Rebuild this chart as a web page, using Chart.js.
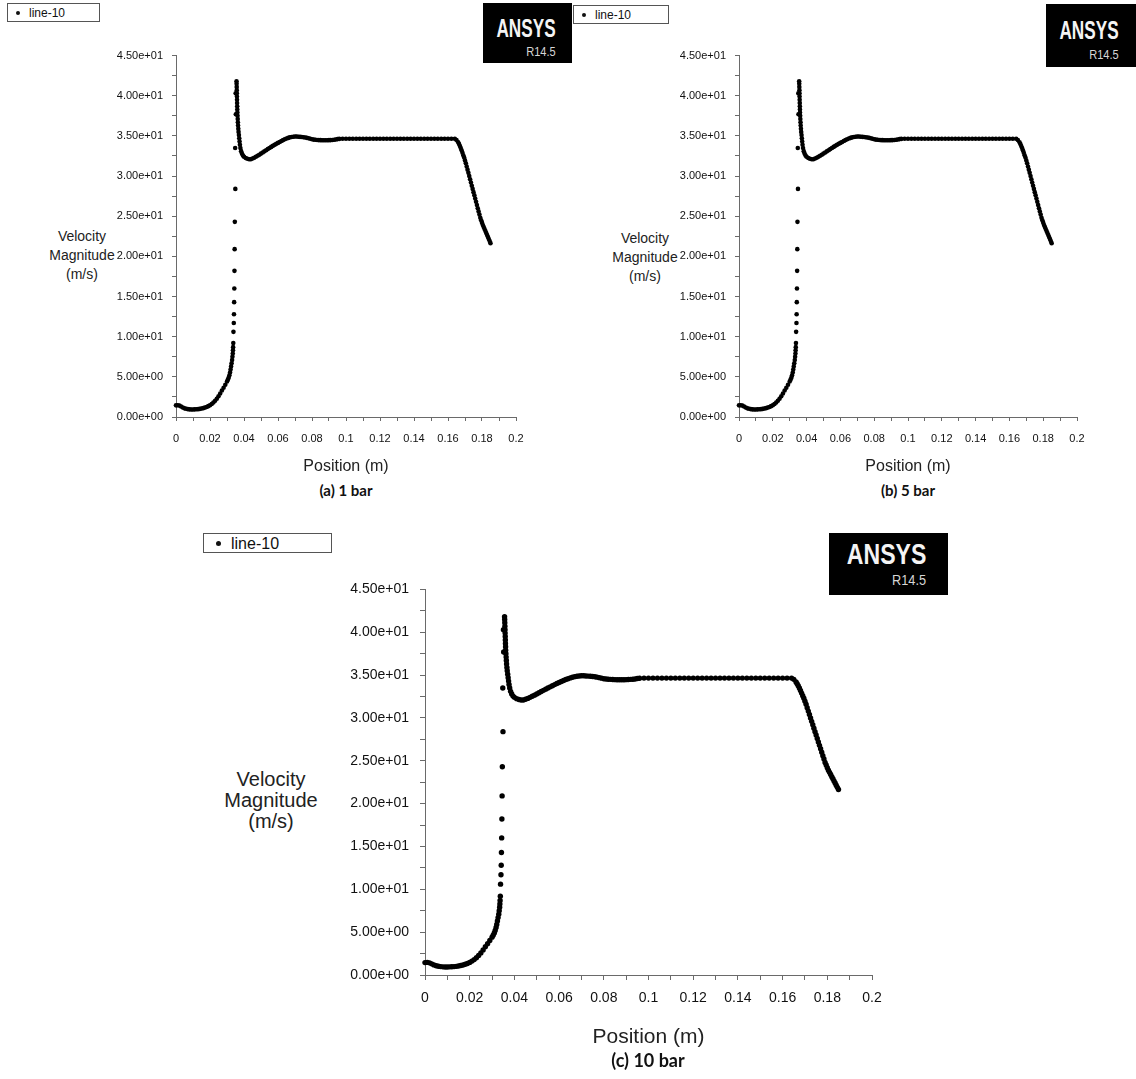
<!DOCTYPE html>
<html>
<head>
<meta charset="utf-8">
<title>Velocity magnitude along line-10</title>
<script src="https://cdn.jsdelivr.net/npm/chart.js@4.4.1/dist/chart.umd.min.js"></script>
<style>
  html, body { margin: 0; padding: 0; background: #fff; }
  #page { position: relative; width: 1136px; height: 1079px; overflow: hidden; background: #fff; }
  canvas { position: absolute; }
  .legend { position: absolute; box-sizing: border-box; border: 1px solid #555; background: #fff;
            font-family: "Liberation Sans", Arial, sans-serif; color: #111; white-space: nowrap; }
  .legend .dot { position: absolute; border-radius: 50%; background: #111; }
  .legend .txt { position: absolute; line-height: 1; }
  .logo { position: absolute; background: #000; overflow: hidden; }
  .logo .brand { position: absolute; font-family: "Liberation Sans", Arial, sans-serif; line-height: 1;
                 font-weight: bold; color: #f4f4f4; transform-origin: right top; white-space: nowrap; }
  .logo .rel { position: absolute; font-family: "Liberation Sans", Arial, sans-serif; line-height: 1;
               color: #d6d6d6; transform-origin: right top; white-space: nowrap; }
  .ytitle { position: absolute; text-align: center; font-family: "Liberation Sans", Arial, sans-serif; color: #222; }
  .caption { position: absolute; text-align: center; font-family: Lato, "Open Sans", sans-serif; font-weight: bold; color: #111; }
</style>
</head>
<body>
<div id="page">
  <!-- panel (a) -->
  <div class="legend" style="left:7px;top:3px;width:93px;height:19px;font-size:12px;">
    <span class="dot" style="left:8px;top:7px;width:4px;height:4px;"></span>
    <span class="txt" style="left:21px;top:3px;">line-10</span>
  </div>
  <div class="logo" style="left:483px;top:3px;width:89px;height:60px;">
    <span class="brand" style="right:16px;top:12px;font-size:26px;transform:scaleX(0.66);">ANSYS</span>
    <span class="rel" style="right:16px;top:42px;font-size:13px;transform:scaleX(0.85);">R14.5</span>
  </div>
  <div class="ytitle" style="left:22px;top:227px;width:120px;font-size:14px;line-height:19px;">Velocity<br>Magnitude<br>(m/s)</div>
  <canvas id="panelA" width="445" height="440" style="left:100px;top:40px;"></canvas>
  <div class="caption" style="left:246px;top:481px;width:200px;font-size:15px;line-height:18px;">(a) 1 bar</div>

  <!-- panel (b) -->
  <div class="legend" style="left:573px;top:5px;width:96px;height:19px;font-size:12px;">
    <span class="dot" style="left:8px;top:7px;width:4px;height:4px;"></span>
    <span class="txt" style="left:21px;top:3px;">line-10</span>
  </div>
  <div class="logo" style="left:1046px;top:4px;width:90px;height:63px;">
    <span class="brand" style="right:17px;top:13px;font-size:26px;transform:scaleX(0.66);">ANSYS</span>
    <span class="rel" style="right:17px;top:44px;font-size:13px;transform:scaleX(0.85);">R14.5</span>
  </div>
  <div class="ytitle" style="left:585px;top:229px;width:120px;font-size:14px;line-height:19px;">Velocity<br>Magnitude<br>(m/s)</div>
  <canvas id="panelB" width="443" height="440" style="left:663px;top:40px;"></canvas>
  <div class="caption" style="left:808px;top:481px;width:200px;font-size:15px;line-height:18px;">(b) 5 bar</div>

  <!-- panel (c) -->
  <div class="legend" style="left:203px;top:533px;width:129px;height:20px;font-size:16px;">
    <span class="dot" style="left:12px;top:7px;width:5px;height:5px;"></span>
    <span class="txt" style="left:27px;top:2px;">line-10</span>
  </div>
  <div class="logo" style="left:829px;top:533px;width:119px;height:62px;">
    <span class="brand" style="right:22px;top:6px;font-size:30px;transform:scaleX(0.77);">ANSYS</span>
    <span class="rel" style="right:22px;top:39px;font-size:15px;transform:scaleX(0.85);">R14.5</span>
  </div>
  <div class="ytitle" style="left:196px;top:769px;width:150px;font-size:20px;line-height:21px;">Velocity<br>Magnitude<br>(m/s)</div>
  <canvas id="panelC" width="570" height="485" style="left:330px;top:570px;"></canvas>
  <div class="caption" style="left:548px;top:1049px;width:200px;font-size:18px;line-height:22px;">(c) 10 bar</div>
</div>

<script>
// Velocity magnitude (m/s) sampled along line-10, grouped by flow region.
// Inlet: slow approach flow, then the acceleration into the throat.
const posInlet = [0.000, 0.001, 0.002, 0.003, 0.004, 0.005, 0.006, 0.007, 0.008, 0.009,
                  0.010, 0.011, 0.012, 0.013, 0.014, 0.015, 0.016, 0.017, 0.018, 0.019,
                  0.020, 0.021, 0.022, 0.023, 0.024, 0.025, 0.026, 0.027, 0.028, 0.029,
                  0.030, 0.0305, 0.0310, 0.0314, 0.0318, 0.0321, 0.0324, 0.0327, 0.0330,
                  0.0332, 0.0334, 0.0335, 0.0336, 0.0337];
const velInlet = [1.45, 1.47, 1.42, 1.30, 1.18, 1.08, 1.02, 0.98, 0.95, 0.94,
                  0.94, 0.95, 0.96, 0.98, 1.01, 1.05, 1.10, 1.17, 1.25, 1.35,
                  1.47, 1.62, 1.80, 2.02, 2.28, 2.58, 2.93, 3.30, 3.65, 4.02,
                  4.42, 4.65, 4.90, 5.20, 5.55, 5.90, 6.30, 6.70, 7.10,
                  7.50, 7.90, 8.30, 8.70, 9.20];

// Jet: the sparse samples across the sharp velocity jump.
const posJet = [0.0338, 0.0340, 0.0341, 0.0342, 0.0343, 0.0344, 0.0345, 0.0346, 0.0349, 0.0348, 0.0351, 0.0352];
const velJet = [10.6, 11.7, 12.8, 14.3, 16.0, 18.2, 20.9, 24.3, 28.4, 33.5, 40.3, 37.7];

// Peak and the fall back towards the local minimum.
const posPeak = [0.03560, 0.03565, 0.03570, 0.03575, 0.03580, 0.03585, 0.03590, 0.03595, 0.03600,
                 0.03605, 0.03610, 0.03620, 0.03630, 0.03640, 0.03650, 0.03665, 0.03680, 0.03700,
                 0.03720, 0.03740, 0.03760, 0.03790, 0.03830, 0.03880, 0.03940];
const velPeak = [41.8, 41.5, 41.1, 40.7, 40.3, 39.9, 39.5, 39.1, 38.7,
                 38.3, 37.9, 37.5, 37.1, 36.7, 36.3, 35.9, 35.5, 35.1,
                 34.7, 34.3, 33.9, 33.5, 33.1, 32.8, 32.55];

// Recovery: minimum near 0.044 m, small overshoot near 0.07 m.
const posRecovery = [0.040, 0.041, 0.042, 0.043, 0.044, 0.045, 0.046, 0.047, 0.048, 0.049,
                     0.050, 0.051, 0.052, 0.053, 0.054, 0.055, 0.056, 0.057, 0.058, 0.059,
                     0.060, 0.061, 0.062, 0.063, 0.064, 0.065, 0.066, 0.067, 0.068, 0.069,
                     0.070, 0.071, 0.072, 0.073, 0.074, 0.075, 0.076, 0.077, 0.078, 0.079,
                     0.080, 0.081, 0.082, 0.083, 0.084, 0.085, 0.086, 0.087, 0.088, 0.089,
                     0.090, 0.091, 0.092, 0.093, 0.094, 0.095, 0.096];
const velRecovery = [32.40, 32.25, 32.15, 32.10, 32.10, 32.18, 32.28, 32.40, 32.53, 32.66,
                     32.80, 32.94, 33.08, 33.22, 33.36, 33.50, 33.63, 33.76, 33.89, 34.01,
                     34.13, 34.25, 34.37, 34.48, 34.58, 34.67, 34.75, 34.82, 34.87, 34.90,
                     34.92, 34.92, 34.90, 34.88, 34.86, 34.84, 34.80, 34.76, 34.70, 34.64,
                     34.58, 34.54, 34.52, 34.50, 34.48, 34.47, 34.46, 34.46, 34.46, 34.46,
                     34.47, 34.48, 34.50, 34.52, 34.55, 34.60, 34.63];

// Plateau: developed flow.
const posPlateau = [0.098, 0.100, 0.102, 0.104, 0.106, 0.108, 0.110, 0.112, 0.114, 0.116, 0.118,
                    0.120, 0.122, 0.124, 0.126, 0.128, 0.130, 0.132, 0.134, 0.136, 0.138,
                    0.140, 0.142, 0.144, 0.146, 0.148, 0.150, 0.152, 0.154, 0.156, 0.158,
                    0.160, 0.162];
const velPlateau = [34.65, 34.65, 34.65, 34.65, 34.65, 34.65, 34.65, 34.65, 34.65, 34.65, 34.65,
                    34.65, 34.65, 34.65, 34.65, 34.65, 34.65, 34.65, 34.65, 34.65, 34.65,
                    34.65, 34.65, 34.65, 34.65, 34.65, 34.65, 34.65, 34.65, 34.65, 34.65,
                    34.65, 34.65];

// Outlet: deceleration to the end of the line.
const posOutlet = [0.1640, 0.1650, 0.1660, 0.1665, 0.1670, 0.1675, 0.1680, 0.1685, 0.1690, 0.1695,
                   0.1700, 0.1705, 0.1710, 0.1715, 0.1720, 0.1725, 0.1730, 0.1735, 0.1740, 0.1745,
                   0.1750, 0.1755, 0.1760, 0.1765, 0.1770, 0.1775, 0.1780, 0.1785, 0.1790, 0.1795,
                   0.1800, 0.1805, 0.1810, 0.1815, 0.1820, 0.1825, 0.1830, 0.1835, 0.1840, 0.1845,
                   0.1850];
const velOutlet = [34.65, 34.50, 34.20, 34.00, 33.75, 33.50, 33.20, 32.90, 32.60, 32.30,
                   31.95, 31.60, 31.20, 30.80, 30.40, 30.00, 29.60, 29.20, 28.80, 28.40,
                   28.00, 27.60, 27.20, 26.80, 26.40, 26.00, 25.60, 25.20, 24.80, 24.50,
                   24.20, 23.90, 23.65, 23.40, 23.15, 22.90, 22.65, 22.40, 22.15, 21.90,
                   21.65];

// Axis tick labels (major ticks only; minor ticks stay unlabeled).
const xTickLabels = ['0', '0.02', '0.04', '0.06', '0.08', '0.1', '0.12', '0.14', '0.16', '0.18', '0.2'];
const yTickLabels = ['0.00e+00', '5.00e+00', '1.00e+01', '1.50e+01', '2.00e+01', '2.50e+01',
                     '3.00e+01', '3.50e+01', '4.00e+01', '4.50e+01'];

const seriesName = 'line-10';

const segments = [
  [posInlet, velInlet], [posJet, velJet], [posPeak, velPeak],
  [posRecovery, velRecovery], [posPlateau, velPlateau], [posOutlet, velOutlet]
];
const profile = [];
segments.forEach(([xs, vs]) => xs.forEach((x, i) => profile.push({ x: x, y: vs[i] })));

const tickFont = '"Liberation Sans", Arial, sans-serif';

function drawPanel(id, g) {
  new Chart(document.getElementById(id), {
    type: 'scatter',
    data: {
      datasets: [{
        label: seriesName,
        data: profile,
        pointStyle: 'circle',
        pointRadius: g.dot,
        pointHoverRadius: g.dot,
        pointBackgroundColor: '#000',
        pointBorderWidth: 0,
        showLine: false,
        clip: false
      }]
    },
    options: {
      responsive: false,
      animation: false,
      devicePixelRatio: 1,
      events: [],
      layout: { padding: { left: 0, top: g.padTop, right: g.padRight, bottom: 0 } },
      plugins: { legend: { display: false }, tooltip: { enabled: false } },
      scales: {
        x: {
          type: 'linear', min: 0, max: 0.2,
          ticks: {
            stepSize: 0.01, autoSkip: false, maxRotation: 0, minRotation: 0,
            padding: g.xPad, color: '#111',
            font: { family: tickFont, size: g.tick },
            callback: (v, i) => (i % 2 === 0 ? xTickLabels[i / 2] : '')
          },
          grid: { drawOnChartArea: false, drawTicks: true, tickLength: g.tickLen, color: '#6a6a6a' },
          border: { display: true, color: '#6a6a6a', width: 1 },
          title: {
            display: true, text: 'Position (m)', color: '#222',
            font: { family: tickFont, size: g.title },
            padding: { top: 0, bottom: g.titlePad }
          },
          afterFit: s => { s.height = g.xAxisH; }
        },
        y: {
          type: 'linear', min: 0, max: 45,
          ticks: {
            stepSize: 2.5, autoSkip: false,
            padding: g.yPad, color: '#111',
            font: { family: tickFont, size: g.tick },
            callback: (v, i) => (i % 2 === 0 ? yTickLabels[i / 2] : '')
          },
          grid: { drawOnChartArea: false, drawTicks: true, tickLength: g.tickLen, color: '#6a6a6a' },
          border: { display: true, color: '#6a6a6a', width: 1 },
          afterFit: s => { s.width = g.yAxisW; }
        }
      }
    }
  });
}

const smallPanel = { dot: 2.3, padTop: 15, padRight: 29, yAxisW: 76, xAxisH: 63, tick: 11, tickLen: 4,
                     xPad: 11, yPad: 9, title: 16, titlePad: 4 };
drawPanel('panelA', smallPanel);
drawPanel('panelB', smallPanel);
drawPanel('panelC', { dot: 2.7, padTop: 18, padRight: 28, yAxisW: 95, xAxisH: 80, tick: 14, tickLen: 5,
                      xPad: 10, yPad: 11, title: 21, titlePad: 5 });
</script>
</body>
</html>
